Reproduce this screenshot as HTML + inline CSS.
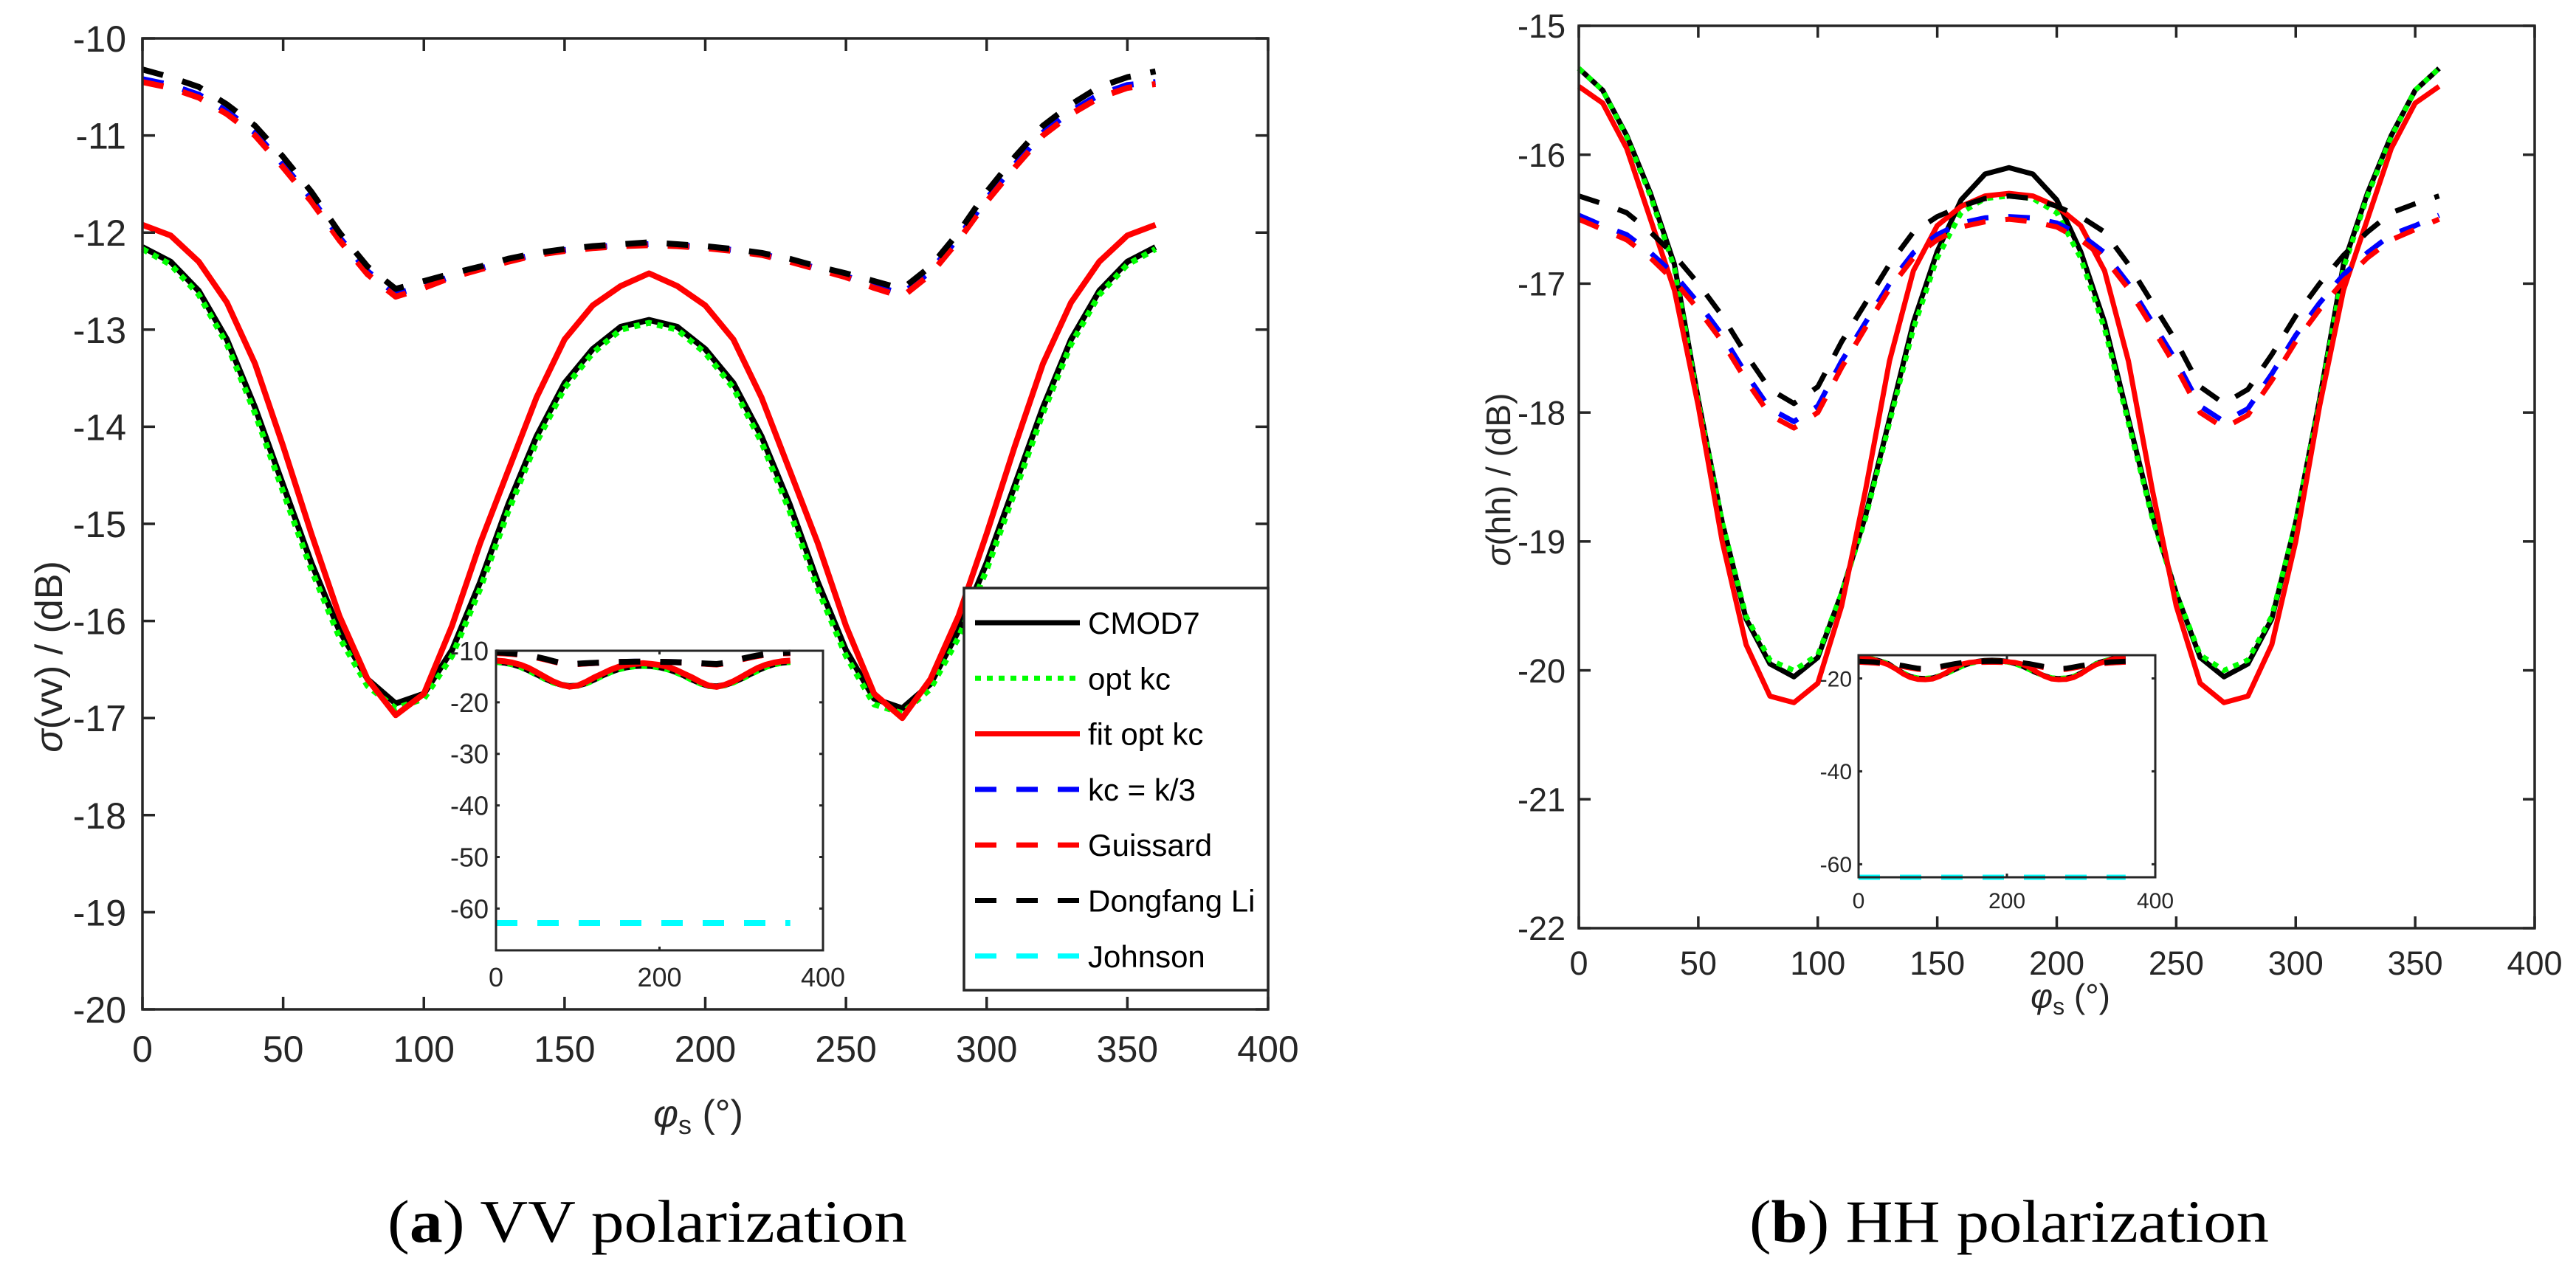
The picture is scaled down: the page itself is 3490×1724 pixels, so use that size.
<!DOCTYPE html>
<html><head><meta charset="utf-8"><style>
html,body{margin:0;padding:0;background:#fff;}
svg{display:block;}
text{font-family:"Liberation Sans",Arial,sans-serif;fill:#262626;}
.cap{font-family:"Liberation Serif","Times New Roman",serif;fill:#000;}
</style></head><body>
<svg id="fig" width="3490" height="1724" viewBox="0 0 3490 1724" xmlns="http://www.w3.org/2000/svg">
<text class="cap" x="525" y="1683" font-size="82" textLength="704" lengthAdjust="spacingAndGlyphs">(<tspan font-weight="bold">a</tspan>) VV polarization</text>
<text class="cap" x="2370" y="1683" font-size="82" textLength="704" lengthAdjust="spacingAndGlyphs">(<tspan font-weight="bold">b</tspan>) HH polarization</text>
</svg>
<script>
const phi = [0,10,20,30,40,50,60,70,80,90,100,110,120,130,140,150,160,170,180,190,200,210,220,230,240,250,260,270,280,290,300,310,320,330,340,350,360];
// VV polarization
const vvCmod7 = [-12.15,-12.3,-12.6,-13.1,-13.8,-14.6,-15.4,-16.1,-16.6,-16.85,-16.75,-16.3,-15.6,-14.8,-14.1,-13.55,-13.2,-12.97,-12.9,-12.97,-13.2,-13.55,-14.1,-14.8,-15.6,-16.3,-16.8,-16.9,-16.65,-16.1,-15.4,-14.6,-13.8,-13.1,-12.6,-12.3,-12.15];
const vvOptKc = [-12.17,-12.33,-12.64,-13.15,-13.86,-14.67,-15.47,-16.17,-16.67,-16.9,-16.8,-16.36,-15.67,-14.87,-14.16,-13.6,-13.24,-13.0,-12.93,-13.0,-13.24,-13.6,-14.16,-14.87,-15.67,-16.36,-16.86,-16.95,-16.7,-16.17,-15.47,-14.67,-13.86,-13.15,-12.64,-12.33,-12.17];
const vvFitOptKc = [-11.92,-12.03,-12.3,-12.72,-13.35,-14.2,-15.1,-15.95,-16.6,-16.97,-16.75,-16.05,-15.2,-14.45,-13.7,-13.1,-12.75,-12.55,-12.42,-12.55,-12.75,-13.1,-13.7,-14.45,-15.2,-16.05,-16.75,-17.0,-16.6,-15.95,-15.1,-14.2,-13.35,-12.72,-12.3,-12.03,-11.92];
const vvKc3 = [-10.42,-10.48,-10.58,-10.75,-10.97,-11.3,-11.65,-12.05,-12.4,-12.63,-12.55,-12.45,-12.37,-12.29,-12.22,-12.18,-12.15,-12.13,-12.12,-12.13,-12.15,-12.18,-12.22,-12.29,-12.37,-12.45,-12.55,-12.63,-12.4,-12.05,-11.65,-11.3,-10.97,-10.75,-10.58,-10.48,-10.45];
const vvGuissard = [-10.45,-10.51,-10.61,-10.78,-11.0,-11.33,-11.68,-12.08,-12.43,-12.66,-12.57,-12.46,-12.38,-12.3,-12.23,-12.19,-12.16,-12.14,-12.13,-12.14,-12.16,-12.19,-12.23,-12.3,-12.38,-12.46,-12.57,-12.66,-12.43,-12.08,-11.68,-11.33,-11.0,-10.78,-10.61,-10.51,-10.47];
const vvDongfang = [-10.32,-10.4,-10.5,-10.68,-10.9,-11.22,-11.58,-12.0,-12.35,-12.58,-12.5,-12.42,-12.35,-12.27,-12.21,-12.17,-12.14,-12.12,-12.1,-12.12,-12.14,-12.17,-12.21,-12.27,-12.35,-12.42,-12.5,-12.58,-12.35,-12.0,-11.58,-11.22,-10.9,-10.68,-10.5,-10.4,-10.34];
const vvJohnson = [-62.8,-62.8,-62.8,-62.8,-62.8,-62.8,-62.8,-62.8,-62.8,-62.8,-62.8,-62.8,-62.8,-62.8,-62.8,-62.8,-62.8,-62.8,-62.8,-62.8,-62.8,-62.8,-62.8,-62.8,-62.8,-62.8,-62.8,-62.8,-62.8,-62.8,-62.8,-62.8,-62.8,-62.8,-62.8,-62.8,-62.8];
// HH polarization
const hhCmod7 = [-15.33,-15.5,-15.85,-16.3,-16.85,-17.9,-18.85,-19.6,-19.95,-20.05,-19.9,-19.4,-18.8,-18.05,-17.3,-16.75,-16.35,-16.15,-16.1,-16.15,-16.35,-16.75,-17.3,-18.05,-18.8,-19.4,-19.9,-20.05,-19.95,-19.6,-18.85,-17.9,-16.85,-16.3,-15.85,-15.5,-15.33];
const hhOptKc = [-15.33,-15.5,-15.86,-16.32,-16.88,-17.92,-18.85,-19.58,-19.92,-20.0,-19.88,-19.4,-18.82,-18.08,-17.35,-16.8,-16.45,-16.34,-16.32,-16.34,-16.45,-16.8,-17.35,-18.08,-18.82,-19.4,-19.88,-20.0,-19.92,-19.58,-18.85,-17.92,-16.88,-16.32,-15.86,-15.5,-15.33];
const hhFitOptKc = [-15.47,-15.6,-15.95,-16.5,-17.05,-17.95,-19.0,-19.8,-20.2,-20.25,-20.1,-19.5,-18.6,-17.6,-16.9,-16.55,-16.4,-16.32,-16.3,-16.32,-16.4,-16.55,-16.9,-17.6,-18.6,-19.5,-20.1,-20.25,-20.2,-19.8,-19.0,-17.95,-17.05,-16.5,-15.95,-15.6,-15.47];
const hhKc3 = [-16.47,-16.55,-16.62,-16.76,-16.93,-17.15,-17.4,-17.7,-17.97,-18.07,-17.95,-17.6,-17.3,-17.0,-16.76,-16.62,-16.53,-16.49,-16.48,-16.49,-16.53,-16.62,-16.76,-17.0,-17.3,-17.6,-17.95,-18.07,-17.97,-17.7,-17.4,-17.15,-16.93,-16.76,-16.62,-16.55,-16.47];
const hhGuissard = [-16.5,-16.58,-16.66,-16.8,-16.98,-17.2,-17.45,-17.75,-18.02,-18.12,-18.0,-17.65,-17.34,-17.04,-16.8,-16.66,-16.56,-16.52,-16.5,-16.52,-16.56,-16.66,-16.8,-17.04,-17.34,-17.65,-18.0,-18.12,-18.02,-17.75,-17.45,-17.2,-16.98,-16.8,-16.66,-16.58,-16.5];
const hhDongfang = [-16.32,-16.38,-16.45,-16.6,-16.78,-17.0,-17.25,-17.55,-17.82,-17.93,-17.8,-17.45,-17.15,-16.85,-16.6,-16.48,-16.4,-16.34,-16.32,-16.34,-16.4,-16.48,-16.6,-16.85,-17.15,-17.45,-17.8,-17.93,-17.82,-17.55,-17.25,-17.0,-16.78,-16.6,-16.45,-16.38,-16.32];
const hhJohnson = [-62.8,-62.8,-62.8,-62.8,-62.8,-62.8,-62.8,-62.8,-62.8,-62.8,-62.8,-62.8,-62.8,-62.8,-62.8,-62.8,-62.8,-62.8,-62.8,-62.8,-62.8,-62.8,-62.8,-62.8,-62.8,-62.8,-62.8,-62.8,-62.8,-62.8,-62.8,-62.8,-62.8,-62.8,-62.8,-62.8,-62.8];
// tick labels
const xTicksMain = [0,50,100,150,200,250,300,350,400];
const yTicksVV = [-20,-19,-18,-17,-16,-15,-14,-13,-12,-11,-10];
const yTicksHH = [-22,-21,-20,-19,-18,-17,-16,-15];
const xTicksInset = [0,200,400];
const yTicksInsetVV = [-60,-50,-40,-30,-20,-10];
const yTicksInsetHH = [-60,-40,-20];
const legendLabels = ["CMOD7","opt kc","fit opt kc","kc = k/3","Guissard","Dongfang Li","Johnson"];

const NS = "http://www.w3.org/2000/svg";
const svg = document.getElementById("fig");
function mk(tag, attrs, parent){
  const e = document.createElementNS(NS, tag);
  for (const k in attrs) e.setAttribute(k, attrs[k]);
  (parent||svg).appendChild(e);
  return e;
}
const AX = "#262626";

function makeAxes(cfg){
  const g = mk("g", {});
  
  
  const sx = v => cfg.x0 + (v - cfg.xmin) / (cfg.xmax - cfg.xmin) * (cfg.x1 - cfg.x0);
  const sy = v => cfg.y1 - (v - cfg.ymin) / (cfg.ymax - cfg.ymin) * (cfg.y1 - cfg.y0);
  // background
  const bg = mk("rect", {x:cfg.x0, y:cfg.y0, width:cfg.x1-cfg.x0, height:cfg.y1-cfg.y0, fill:"#fff"}, g);
  
  
  return {g, sx, sy, cfg};
}
function drawFrame(ax){
  const c = ax.cfg, g = ax.g;
  const tl = c.tickLen;
  c.xTicks.forEach(v=>{
    const x = ax.sx(v);
    mk("line",{x1:x,x2:x,y1:c.y1,y2:c.y1-tl,stroke:AX,"stroke-width":c.lw},g);
    mk("line",{x1:x,x2:x,y1:c.y0,y2:c.y0+tl,stroke:AX,"stroke-width":c.lw},g);
    const t = mk("text",{x:x,y:c.y1+c.xLabOff,"font-size":c.fs,"text-anchor":"middle"},g);
    t.textContent = v;
    
    
  });
  c.yTicks.forEach(v=>{
    const y = ax.sy(v);
    mk("line",{x1:c.x0,x2:c.x0+tl,y1:y,y2:y,stroke:AX,"stroke-width":c.lw},g);
    mk("line",{x1:c.x1,x2:c.x1-tl,y1:y,y2:y,stroke:AX,"stroke-width":c.lw},g);
    const t = mk("text",{x:c.x0-c.yLabOff,y:y+c.fs*0.36,"font-size":c.fs,"text-anchor":"end"},g);
    t.textContent = v;
    
    
  });
  const fr = mk("rect",{x:c.x0,y:c.y0,width:c.x1-c.x0,height:c.y1-c.y0,fill:"none",stroke:AX,"stroke-width":c.lw},g);
  
  
}
const styles = [
  {key:"cmod7", color:"#000000", dash:null},
  {key:"optkc", color:"#00ff00", dash:"8 8"},
  {key:"fitoptkc", color:"#ff0000", dash:null},
  {key:"kc3", color:"#0000ff", dash:"29 27"},
  {key:"guissard", color:"#ff0000", dash:"29 27"},
  {key:"dongfang", color:"#000000", dash:"29 27"},
  {key:"johnson", color:"#00ffff", dash:"29 27"}
];
function drawSeries(ax, series, lw){
  const order = [3,4,5,6,0,1,2];
  const seq = [0,1,2,3,4,5,6];
  seq.forEach(i=>{
    const st = styles[i], ys = series[i];
    if(!ys) return;
    const pts = phi.map((p,j)=> ax.sx(p).toFixed(1)+","+ax.sy(ys[j]).toFixed(1)).join(" ");
    const a = {points:pts, fill:"none", stroke:st.color, "stroke-width":lw, "stroke-linejoin":"round"};
    if(st.dash) a["stroke-dasharray"] = st.dash;
    const pl = mk("polyline", a, ax.g);
    
    
  });
}

// ---------- VV main ----------
const vvSeries = [vvCmod7, vvOptKc, vvFitOptKc, vvKc3, vvGuissard, vvDongfang, vvJohnson];
const hhSeries = [hhCmod7, hhOptKc, hhFitOptKc, hhKc3, hhGuissard, hhDongfang, hhJohnson];

const vv = makeAxes({name:"vv-axes",x0:193,x1:1718,y0:52,y1:1368,xmin:0,xmax:400,ymin:-20,ymax:-10,
  xTicks:xTicksMain,yTicks:yTicksVV,tickLen:17,lw:3.5,fs:50,xLabOff:71,yLabOff:22});
drawSeries(vv, vvSeries.slice(0,6), 8);
drawFrame(vv);

// VV inset
const vvi = makeAxes({name:"vv-inset-axes",x0:672,x1:1115,y0:882,y1:1288,xmin:0,xmax:400,ymin:-68.1,ymax:-10,
  xTicks:xTicksInset,yTicks:yTicksInsetVV,tickLen:5,lw:3,fs:36,xLabOff:49,yLabOff:10});
drawSeries(vvi, vvSeries, 8);
drawFrame(vvi);

// legend
const lg = mk("g",{});


const lbox = mk("rect",{x:1306,y:797,width:412,height:545,fill:"#fff",stroke:AX,"stroke-width":3.5},lg);


legendLabels.forEach((lab,i)=>{
  const y = 844 + i*75.3;
  const st = styles[i];
  const a = {x1:1321,x2:1463,y1:y,y2:y,stroke:st.color,"stroke-width":7};
  if(st.dash) a["stroke-dasharray"] = st.dash;
  const ln = mk("line",a,lg);
  
  
  const t = mk("text",{x:1474,y:y+15,"font-size":42,fill:"#000"},lg);
  t.style.fill = "#000";
  t.textContent = lab;
  
  
});

// ---------- HH main ----------
const hh = makeAxes({name:"hh-axes",x0:2139,x1:3434,y0:35,y1:1258,xmin:0,xmax:400,ymin:-22,ymax:-15,
  xTicks:xTicksMain,yTicks:yTicksHH,tickLen:16,lw:3.5,fs:45,xLabOff:63,yLabOff:18});
drawSeries(hh, hhSeries.slice(0,6), 7);
drawFrame(hh);

const hhi = makeAxes({name:"hh-inset-axes",x0:2518,x1:2920,y0:888,y1:1189,xmin:0,xmax:400,ymin:-62.8,ymax:-15,
  xTicks:xTicksInset,yTicks:yTicksInsetHH,tickLen:5,lw:3,fs:30,xLabOff:42,yLabOff:9});
drawSeries(hhi, hhSeries, 7);
drawFrame(hhi);

// axis titles
function title(x,y,fs,rot,html,name){
  const t = mk("text",{x:x,y:y,"font-size":fs,"text-anchor":"middle"});
  if(rot) t.setAttribute("transform","rotate(-90 "+x+" "+y+")");
  t.innerHTML = html;
  
  
}
title(946,1527,52,false,'<tspan font-style="italic">φ</tspan><tspan font-size="36" dy="10">s</tspan><tspan dy="-10"> (°)</tspan>','vv-x-axis-title');
title(84,890,52,true,'<tspan font-style="italic">σ</tspan>(vv) / (dB)','vv-y-axis-title');
title(2805,1366,46,false,'<tspan font-style="italic">φ</tspan><tspan font-size="32" dy="9">s</tspan><tspan dy="-9"> (°)</tspan>','hh-x-axis-title');
title(2046,650,46,true,'<tspan font-style="italic">σ</tspan>(hh) / (dB)','hh-y-axis-title');
</script>
</body></html>
